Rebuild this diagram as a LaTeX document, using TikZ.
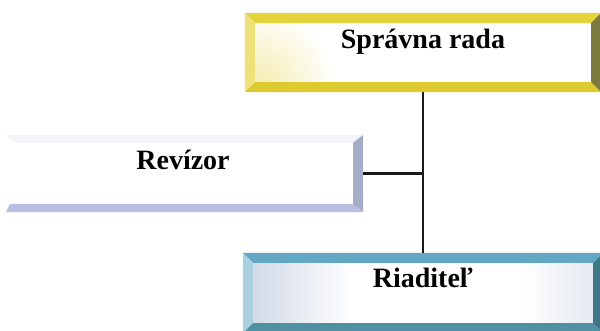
\documentclass[tikz,border=0pt]{standalone}
\usepackage{fontspec}
\setmainfont{Liberation Serif}
\usetikzlibrary{calc}
\definecolor{radatop}{HTML}{E4D33A}
\definecolor{radaleft}{HTML}{EEE17C}
\definecolor{radabottom}{HTML}{DCCA2E}
\definecolor{radaright}{HTML}{7C7A3E}
\definecolor{riadtop}{HTML}{62A7C4}
\definecolor{riadleft}{HTML}{AAD0DF}
\definecolor{riadbottom}{HTML}{4F90A2}
\definecolor{riadright}{HTML}{3E7886}
\definecolor{riadinner}{HTML}{D3DAE6}
\definecolor{revbar}{HTML}{B9BFE3}
\definecolor{revside}{HTML}{A6ADC6}
\definecolor{revtop}{HTML}{F3F4F9}
\tikzset{unitbox/.style={inner sep=0pt, minimum height=80pt},
  unit text/.style={font=\bfseries\fontsize{28}{30}\selectfont, anchor=base, inner sep=0pt},
  link/.style={line width=2.2pt, black!90}}
% bevelled frame round a node: node, top, left, bottom, right, width
\newcommand{\bevelframe}[6]{%
  \fill[#2] (#1.north west) -- (#1.north east) -- ($(#1.north east)+(-#6,#6)$) -- ($(#1.north west)+(#6,#6)$) -- cycle;
  \fill[#3] (#1.north west) -- ($(#1.north west)+(#6,#6)$) -- ($(#1.south west)+(#6,-#6)$) -- (#1.south west) -- cycle;
  \fill[#4] (#1.south west) -- ($(#1.south west)+(#6,-#6)$) -- ($(#1.south east)+(-#6,-#6)$) -- (#1.south east) -- cycle;
  \fill[#5] (#1.north east) -- ($(#1.north east)+(-#6,#6)$) -- ($(#1.south east)+(-#6,-#6)$) -- (#1.south east) -- cycle;
}
\begin{document}
\begin{tikzpicture}[x=1pt, y=-1pt]
  \clip (0,0) rectangle (600,330);
  \fill[white] (0,0) rectangle (600,330);
  % boxes
  \node[unitbox, minimum width=356pt, minimum height=79pt] (rada) at (423,52.5) {};
  \node[unitbox, minimum width=360pt] (riad) at (423,293) {};
  \node[unitbox, minimum width=357pt, minimum height=77pt] (rev) at (184.5,173.5) {};
  \begin{scope}
    \clip ($(rada.north west)+(10,10)$) rectangle ($(rada.south east)+(-10,-10)$);
    \shade[inner color=radatop!40, outer color=white] ($(rada.south west)+(15,-8)$) circle (75);
  \end{scope}
  \bevelframe{rada}{radatop}{radaleft}{radabottom}{radaright}{10}
  \shade[left color=riadinner, right color=white]
    ($(riad.north west)+(10,10)$) rectangle ($(riad.south west)+(110,-10)$);
  \shade[left color=white, right color=riadinner!60]
    ($(riad.north east)+(-80,10)$) rectangle ($(riad.south east)+(-10,-10)$);
  \bevelframe{riad}{riadtop}{riadleft}{riadbottom}{riadright}{10}
  % open frame of the auditor
  \fill[revtop] (rev.north west) -- (rev.north east) -- ($(rev.north east)+(-10,8)$) -- ($(rev.north west)+(10,8)$) -- cycle;
  \fill[revbar] (rev.south west) -- (rev.south east) -- ($(rev.south east)+(-10,-8)$) -- ($(rev.south west)+(4,-8)$) -- cycle;
  \fill[revside] (rev.north east) -- (rev.south east) -- ($(rev.south east)+(-10,-8)$) -- ($(rev.north east)+(-10,8)$) -- cycle;
  % labels
  \node[unit text] (radalbl) at (423,48) {Správna rada};
  \node[unit text] (revlbl) at (183,169) {Revízor};
  \node[unit text] (riadlbl) at (423,287) {Riaditeľ};
  % links
  \draw[link] (rada.south) -- (riad.north);
  \draw[link] (rev.east) -- (rev.east -| rada.south);
\end{tikzpicture}
\end{document}
